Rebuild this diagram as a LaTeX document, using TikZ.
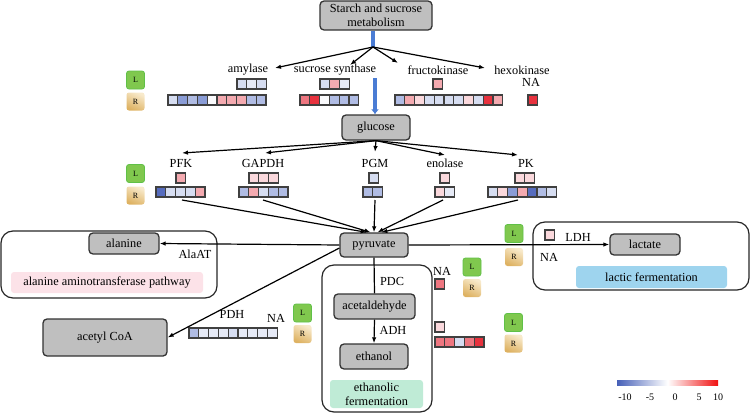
\documentclass[tikz,border=0pt]{standalone}
\usepackage{fontspec}
\setmainfont{Liberation Serif}
\usetikzlibrary{arrows.meta,calc}

\definecolor{boxgray}{RGB}{191,191,191}
\definecolor{flowblue}{RGB}{74,124,212}
\definecolor{hb4}{RGB}{86,108,190}
\definecolor{hb3}{RGB}{138,156,214}
\definecolor{hb2}{RGB}{176,188,228}
\definecolor{hb1}{RGB}{214,221,241}
\definecolor{hb0}{RGB}{230,234,246}
\definecolor{hw}{RGB}{250,250,252}
\definecolor{hp1}{RGB}{250,216,220}
\definecolor{hp2}{RGB}{244,170,176}
\definecolor{hp3}{RGB}{238,118,128}
\definecolor{hr}{RGB}{232,50,62}
\definecolor{bandpink}{RGB}{252,226,232}
\definecolor{bandblue}{RGB}{158,212,238}
\definecolor{bandgreen}{RGB}{191,235,214}
\definecolor{lfill}{RGB}{128,200,78}
\definecolor{ldraw}{RGB}{96,192,72}
\definecolor{rlight}{RGB}{248,234,204}
\definecolor{rdark}{RGB}{222,178,98}
\definecolor{legblue}{RGB}{70,96,184}
\definecolor{legred}{RGB}{240,16,16}

\newcommand{\heatrow}[3]{%
  \foreach \c [count=\i from 0] in {#3}
    \draw[cell, fill=\c] ({#1+\i*9.8},#2) rectangle ++(9.8,10);
}

\begin{document}
\begin{tikzpicture}[x=1pt, y=-1pt, >={Latex[length=6pt,width=4.5pt]},
    font=\fontsize{12.3}{14}\selectfont,
    box/.style={draw=black!80, fill=boxgray, rounded corners=4pt, line width=1.3pt, align=center, inner sep=1pt},
    cell/.style={draw=black!75, line width=1.1pt},
    area/.style={draw=black!85, rounded corners=12pt, line width=1.2pt},
    band/.style={rounded corners=3pt, align=center, inner sep=0pt},
    link/.style={->, line width=1.2pt},
    flow/.style={draw=flowblue, line width=3.5pt},
    badgeL/.style={draw=ldraw, fill=lfill, rounded corners=2.5pt, line width=0.8pt, minimum size=18pt, inner sep=0pt, font=\fontsize{8}{9}\selectfont},
    badgeR/.style={top color=rlight, bottom color=rdark, shading angle=-25, rounded corners=2.5pt, minimum size=18pt, inner sep=0pt, font=\fontsize{8}{9}\selectfont},
    legtext/.style={font=\fontsize{10}{11}\selectfont}]

    \useasboundingbox (0,0) rectangle (750,415);

    \draw[area] (1,231) rectangle (217,298);
    \draw[area] (533,222) rectangle (749,290);
    \draw[area] (322,265) rectangle (432,412);

    \node[band, fill=bandpink, minimum width=192pt, minimum height=21pt] (alaband) at (107,282.5) {alanine aminotransferase pathway};
    \node[band, fill=bandblue, minimum width=151pt, minimum height=22pt] (lacband) at (651.5,277) {lactic fermentation};
    \node[band, fill=bandgreen, minimum width=93pt, minimum height=28pt] (ethband) at (376.5,394) {ethanolic\\fermentation};

    \node[box, minimum width=112pt, minimum height=29pt] (starch) at (376,15.5) {Starch and sucrose\\metabolism};
    \node[box, minimum width=68pt, minimum height=25pt] (glucose) at (376,127.5) {glucose};
    \node[box, minimum width=68pt, minimum height=24pt] (pyr) at (374,245) {pyruvate};
    \node[box, minimum width=70pt, minimum height=21pt] (alanine) at (124,243.5) {alanine};
    \node[box, minimum width=124pt, minimum height=37pt] (acetyl) at (105,337.5) {acetyl CoA};
    \node[box, minimum width=81pt, minimum height=25pt] (acetald) at (374.5,306.5) {acetaldehyde};
    \node[box, minimum width=68pt, minimum height=25pt] (ethanol) at (374,356.5) {ethanol};
    \node[box, minimum width=70pt, minimum height=21pt] (lactate) at (645,244.5) {lactate};

    \node (amyl) at (248,70) {amylase};
    \node (sucsyn) at (335,70) {sucrose synthase};
    \node (fruk) at (438,70) {fructokinase};
    \node (hexk) at (522,70) {hexokinase};
    \node (hexna) at (531,82) {NA};
    \node (pfk) at (181,163) {PFK};
    \node (gapdh) at (263,163) {GAPDH};
    \node (pgm) at (375,163) {PGM};
    \node (enol) at (445,163) {enolase};
    \node (pk) at (526,163) {PK};
    \node (alaat) at (195,254) {AlaAT};
    \node (pdh) at (232,314) {PDH};
    \node (pdhna) at (276,318) {NA};
    \node (pdc) at (392,281) {PDC};
    \node (pdcna) at (442,271) {NA};
    \node (adh) at (393,330) {ADH};
    \node (ldh) at (578,237) {LDH};
    \node (ldhna) at (549,257) {NA};

    \node[badgeL] (L1) at (135.5,80) {L};
    \node[badgeR] (R1) at (135.5,101.5) {R};
    \node[badgeL] (L2) at (135.5,173.5) {L};
    \node[badgeR] (R2) at (135.5,195.5) {R};
    \node[badgeL] (L3) at (302.5,313) {L};
    \node[badgeR] (R3) at (302.5,334) {R};
    \node[badgeL] (L4) at (472,267) {L};
    \node[badgeR] (R4) at (472,288) {R};
    \node[badgeL] (L5) at (513.5,322.5) {L};
    \node[badgeR] (R5) at (513.5,343.5) {R};
    \node[badgeL] (L6) at (514,233.5) {L};
    \node[badgeR] (R6) at (514,257) {R};

    \heatrow{237}{79}{hb1,hb0,hb1}
    \heatrow{168}{95}{hb1,hb3,hb2,hb3,hw,hp2,hp2,hp2,hb2,hb2}
    \heatrow{320}{79}{hb1,hp2,hb0}
    \heatrow{300}{95}{hp3,hr,hw,hb2,hb2,hb2}
    \heatrow{433}{79}{hp2}
    \heatrow{395}{95}{hb2,hp2,hp1,hb1,hb1,hb1,hb1,hp1,hb1,hr,hp2}
    \heatrow{528}{95}{hr}
    \heatrow{176}{173}{hp2}
    \heatrow{156}{187}{hb4,hb1,hb1,hb1,hp2}
    \heatrow{249}{173}{hp1,hp1,hp1}
    \heatrow{239}{187}{hb2,hp2,hb1,hb2,hb2}
    \heatrow{369}{173}{hb1}
    \heatrow{363}{187}{hb2,hb2}
    \heatrow{440}{173}{hp1}
    \heatrow{435}{187}{hp1,hb0}
    \heatrow{515}{173}{hp1,hp1}
    \heatrow{488}{187}{hb1,hp1,hb3,hp2,hb4,hb2,hb1}
    \heatrow{189}{328}{hb2,hb0,hb0,hb0,hb1,hb0,hb0,hb0,hb0}
    \heatrow{435}{279}{hp3}
    \heatrow{435}{322}{hp1}
    \heatrow{435}{337}{hp3,hp3,hb1,hp3,hr}
    \heatrow{545}{230}{hp1}

    \coordinate (split) at (373,47);
    \coordinate (sucmid) at (375,78);
    \draw[flow] (starch.south -| split) -- (split);
    \draw[flow, -{Latex[length=5pt,width=8pt]}] (sucmid) -- (glucose.north -| sucmid);

    \coordinate (amyT) at (275,68);
    \coordinate (sucT) at (350,65);
    \coordinate (fruT) at (398,63);
    \coordinate (hexT) at (485,68);
    \foreach \t in {amyT,sucT,fruT,hexT}
        \draw[link] (split) -- (\t);

    \coordinate (pfkT) at (182,153);
    \coordinate (gapT) at (265,153);
    \coordinate (pgmT) at (375,152);
    \coordinate (enoT) at (445,155);
    \coordinate (pkT) at (518,155);
    \foreach \t in {pfkT,gapT,pgmT,enoT,pkT}
        \draw[link] (glucose.south) -- (\t);

    \coordinate (pfkB) at (182,200);
    \coordinate (gapB) at (263,200);
    \coordinate (pgmB) at (375,200);
    \coordinate (enoB) at (443,200);
    \coordinate (pkB) at (518,200);
    \draw[link] (pfkB) -- (pyr.120);
    \draw[link] (gapB) -- (pyr.105);
    \draw[link] (pgmB) -- (pyr.north);
    \draw[link] (enoB) -- (pyr.75);
    \draw[link] (pkB) -- (pyr.60);

    \draw[link] (pyr.west) -- (alanine.east);
    \draw[link] (pyr.185) -- (acetyl.east);
    \draw[link] (pyr.east) -- (lactate.west);
    \draw[line width=1.2pt] (pyr.south) -- (acetald.north);
    \draw[link] (acetald.south) -- (ethanol.north);

    \shade[left color=legblue, right color=legred, middle color=white] (617,380) rectangle (718,385);
    \node[legtext] (lm10) at (625,397) {-10};
    \node[legtext] (lm5) at (650,397) {-5};
    \node[legtext] (l0) at (675,397) {0};
    \node[legtext] (l5) at (699,397) {5};
    \node[legtext] (l10) at (718,397) {10};
\end{tikzpicture}
\end{document}
